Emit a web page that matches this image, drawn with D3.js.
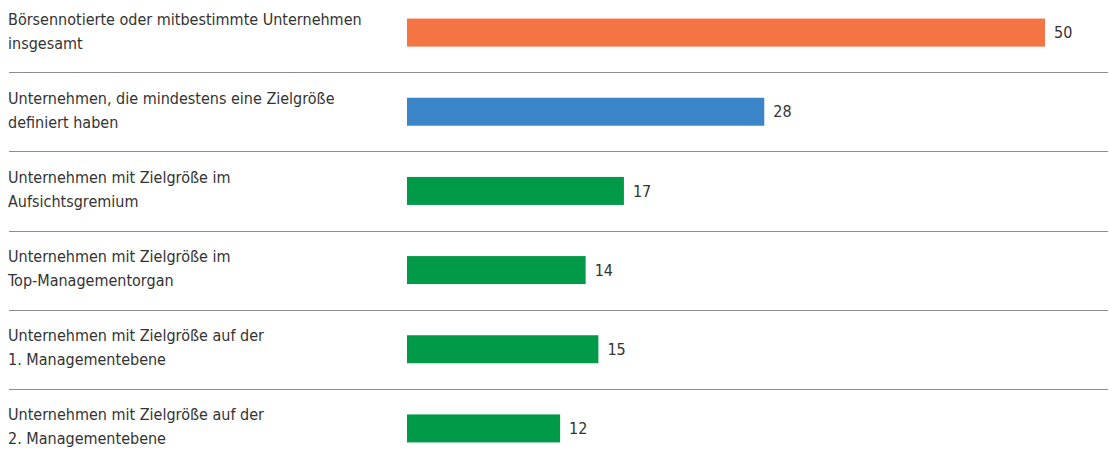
<!DOCTYPE html>
<html>
<head>
<meta charset="utf-8">
<script src="https://cdn.jsdelivr.net/npm/d3@7"></script>
<style>
  body { margin: 0; background: #fff; }
  svg { display: block; }
  .label { font-family: "DejaVu Sans Condensed", "DejaVu Sans", sans-serif; font-stretch: condensed; font-size: 16px; fill: #333; }
  .value { font-family: "DejaVu Sans Condensed", "DejaVu Sans", sans-serif; font-stretch: condensed; font-size: 16px; fill: #333; }
  .sep { stroke: #8c8c8c; stroke-width: 1.2; }
</style>
</head>
<body>
<svg width="1111" height="467"></svg>
<script>
const categories = [
  ["Börsennotierte oder mitbestimmte Unternehmen", "insgesamt"],
  ["Unternehmen, die mindestens eine Zielgröße", "definiert haben"],
  ["Unternehmen mit Zielgröße im", "Aufsichtsgremium"],
  ["Unternehmen mit Zielgröße im", "Top-Managementorgan"],
  ["Unternehmen mit Zielgröße auf der", "1. Managementebene"],
  ["Unternehmen mit Zielgröße auf der", "2. Managementebene"]
];
const values = [50, 28, 17, 14, 15, 12];
const groups = ["total", "defined", "target", "target", "target", "target"];

const colors = { total: "#f47443", defined: "#3a86c8", target: "#009a48" };

window.onload = () => {
  const svg = d3.select("svg");

  const y = d3.scaleBand()
    .domain(d3.range(categories.length))
    .range([-7, 468])
    .paddingInner(0);

  const x = d3.scaleLinear()
    .domain([0, 50])
    .range([407, 1045]);

  const barH = 28;

  const rows = svg.selectAll("g.row")
    .data(values)
    .join("g")
      .attr("class", "row")
      .attr("transform", (_, i) => `translate(0, ${y(i) + y.bandwidth() / 2})`);

  // separators between rows
  svg.selectAll("line.sep")
    .data(d3.range(1, categories.length))
    .join("line")
      .attr("class", "sep")
      .attr("x1", 9)
      .attr("x2", 1108)
      .attr("y1", i => Math.round(y(i)) + 0.5)
      .attr("y2", i => Math.round(y(i)) + 0.5);

  rows.append("rect")
      .attr("x", x(0))
      .attr("y", -barH / 2)
      .attr("width", d => x(d) - x(0))
      .attr("height", barH)
      .attr("fill", (_, i) => colors[groups[i]]);

  rows.append("text")
      .attr("class", "value")
      .attr("x", d => x(d) + 9)
      .attr("dy", "0.35em")
      .text(d => d);

  rows.append("text")
      .attr("class", "label")
      .attr("x", 8)
      .attr("y", -8)
      .selectAll("tspan")
      .data((_, i) => categories[i])
      .join("tspan")
        .attr("x", 8)
        .attr("dy", (_, j) => j === 0 ? 0 : 24)
        .text(d => d);
}
</script>
</body>
</html>
